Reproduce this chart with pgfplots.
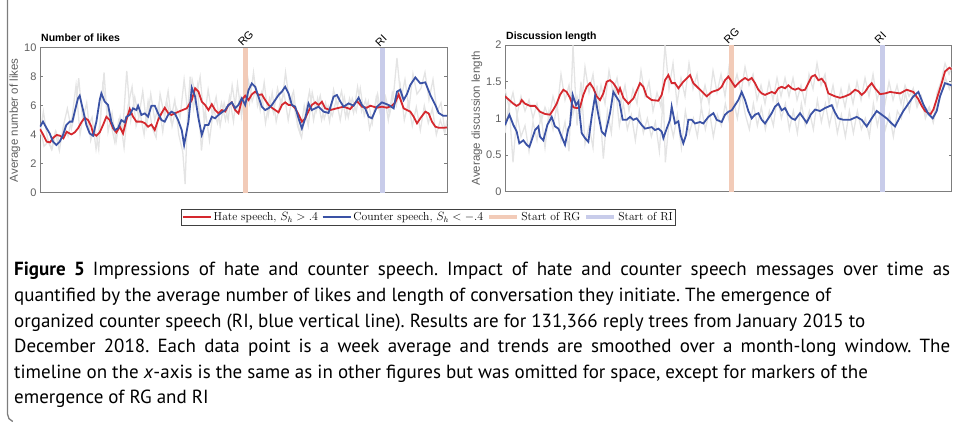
\documentclass[border=0pt]{standalone}
\usepackage{fontspec}
\usepackage{pgfplots}
\pgfplotsset{compat=1.18}
\newfontfamily\arialfont{Liberation Sans}
\newfontfamily\capfont{PT Sans}

\definecolor{hatered}{RGB}{213,40,46}
\definecolor{counterblue}{RGB}{58,82,165}
\definecolor{rgbar}{RGB}{242,203,184}
\definecolor{ribar}{RGB}{200,204,234}
\definecolor{rawgray}{RGB}{228,228,228}
\definecolor{boxgray}{RGB}{125,125,125}
\definecolor{labgray}{RGB}{95,95,95}

\tikzset{
  mark label/.style={rotate=45, anchor=south west, inner sep=0pt,
    xshift=-2pt, yshift=2.5pt, font=\arialfont\fontsize{11}{12}\selectfont},
  panel title/.style={anchor=base west, inner sep=0pt, xshift=1pt, yshift=6pt,
    font=\arialfont\bfseries\fontsize{10.5}{12}\selectfont},
}

\pgfplotsset{
  panel/.style={
    scale only axis,
    clip mode=individual,
    axis line style={boxgray, line width=0.6pt},
    xtick=\empty,
    ytick pos=both,
    yticklabel pos=left,
    tick align=inside,
    major tick length=3pt,
    tick style={boxgray, line width=0.5pt},
    /pgf/number format/assume math mode=true,
    tick label style={font=\arialfont\fontsize{11}{12}\selectfont, text=labgray},
    ylabel style={font=\arialfont\fontsize{11.5}{13}\selectfont, text=labgray, anchor=center},
  },
  raw/.style={rawgray, line width=1.3pt, forget plot},
  hate/.style={hatered, line width=1.8pt, forget plot},
  counter/.style={counterblue, line width=1.8pt, forget plot},
}

\begin{document}
\begin{tikzpicture}[x=1pt,y=1pt]
\path[use as bounding box] (0,0) rectangle (955,426);

% page frame on the left
\draw[boxgray, line width=1.3pt] (7.5,426) -- (7.5,12) arc[start angle=180, end angle=250, radius=8];

% ---------------- Number of likes ----------------
\begin{axis}[panel,
  at={(40pt,233.3pt)}, anchor=south west,
  width=407pt, height=145pt,
  xmin=120, xmax=1340, ymin=0, ymax=10,
  ytick={0,2,4,6,8,10},
  ylabel={Average number of likes},
  ylabel style={at={(axis description cs:-0.0614,0.5)}},
  legend columns=4,
  legend image code/.code={\draw[#1] (0pt,0pt) -- (28pt,0pt);},
  legend style={at={(0.9545,-0.1676)}, anchor=center, draw=black!75,
    line width=0.6pt, inner sep=1pt,
    font=\fontsize{11.6}{14}\selectfont,
    /tikz/every even column/.append style={column sep=2pt}},
]
\addplot[raw] coordinates {
(120,4.6)(132,3.2)(144,3.5)(156,3.0)(168,4.2)(180,3.4)(192,4.6)(204,3.9)(216,5.2)(228,7.4)
(240,4.0)(252,5.6)(264,4.5)(276,5.2)(288,3.0)(300,4.9)(312,8.3)(324,4.2)(336,5.5)(348,3.5)
(360,5.2)(372,3.1)(384,6.0)(396,7.3)(408,4.6)(420,5.5)(432,4.0)(444,6.3)(456,4.5)(468,3.8)
(480,6.8)(492,5.4)(504,7.0)(516,4.6)(528,5.9)(540,5.2)(552,7.8)(564,5.3)(576,7.8)(588,6.5)
(600,8.0)(612,5.0)(624,7.1)(636,5.4)(648,6.6)(660,4.6)(672,6.2)(684,5.0)(696,7.4)(708,5.6)
(720,6.6)(732,5.2)(744,7.8)(756,6.3)(768,7.2)(780,5.7)(792,7.6)(804,5.3)(816,6.9)(828,4.9)
(840,6.2)(852,6.8)(864,5.0)(876,6.6)(888,5.2)(900,4.1)(912,6.0)(924,4.6)(936,6.9)(948,5.6)
(960,6.7)(972,5.1)(984,6.0)(996,5.3)(1008,6.4)(1020,5.0)(1032,6.6)(1044,5.2)(1056,6.5)(1068,5.6)
(1080,7.2)(1092,5.3)(1104,6.3)(1116,4.8)(1128,6.6)(1140,5.4)(1152,6.8)(1164,5.0)(1176,6.9)(1188,6.0)
(1200,7.4)(1212,5.0)(1224,6.2)(1236,4.6)(1248,5.9)(1260,4.3)(1272,6.0)(1284,4.8)(1296,5.8)(1308,4.0)
(1320,5.0)(1332,4.2)(1340,4.6)};
\addplot[raw] coordinates {
(120,4.0)(130,5.6)(142,3.8)(154,3.0)(166,4.2)(178,2.9)(190,4.6)(202,5.8)(214,4.4)(226,5.6)
(236,7.9)(248,5.0)(260,6.2)(272,3.6)(284,4.6)(296,3.0)(308,7.4)(320,6.0)(332,4.8)(344,3.5)
(356,5.0)(368,4.3)(380,8.4)(392,5.0)(404,6.6)(416,5.2)(428,7.0)(440,4.6)(452,6.8)(464,5.0)
(476,6.1)(488,4.2)(500,6.3)(512,5.0)(524,6.4)(536,4.0)(548,2.8)(555,0.6)(562,5.2)(570,8.0)
(580,5.8)(592,7.4)(604,2.9)(616,5.6)(628,3.6)(640,5.8)(652,4.8)(664,6.2)(676,5.0)(688,6.6)
(700,4.9)(712,7.5)(724,5.3)(736,8.0)(748,6.2)(760,8.3)(772,6.0)(784,6.9)(796,4.8)(808,6.5)
(820,5.5)(832,7.2)(844,6.0)(856,8.3)(868,6.2)(880,7.0)(892,4.6)(904,3.8)(916,5.6)(928,7.0)
(940,5.0)(952,6.5)(964,5.0)(976,6.2)(988,4.9)(1000,7.1)(1012,6.0)(1024,7.0)(1036,5.2)(1048,6.5)
(1060,5.5)(1072,7.3)(1084,5.6)(1096,6.4)(1108,4.4)(1120,5.4)(1132,6.8)(1144,5.2)(1156,6.6)(1168,5.4)
(1180,6.8)(1190,9.3)(1202,6.4)(1214,7.8)(1226,5.8)(1238,8.2)(1250,6.8)(1262,7.2)(1274,8.3)(1286,6.4)
(1298,7.8)(1310,5.6)(1322,6.2)(1334,4.2)(1340,5.0)};
\addplot[rgbar, line width=5pt, forget plot] coordinates {(737,0) (737,10)};
\addplot[ribar, line width=5pt, forget plot] coordinates {(1148,0) (1148,10)};
\addplot[hate] coordinates {
(120,4.39)(130,3.98)(140,3.52)(150,3.47)(160,3.8)(170,3.98)(180,3.93)(190,3.75)(200,4.2)(214,4.02)
(224,4.16)(234,4.44)(244,4.85)(254,5.17)(264,5.01)(274,4.55)(279,4.09)(289,3.93)(299,4.16)(309,4.67)
(319,5.24)(329,5.01)(339,4.44)(349,4.16)(359,4.55)(369,4.09)(379,5.01)(389,5.77)(399,5.24)(409,4.9)
(424,4.9)(434,4.8)(444,4.55)(454,4.7)(464,4.32)(474,5.01)(484,5.47)(494,5.86)(504,5.5)(514,5.36)
(524,5.47)(540,5.63)(560,5.82)(575,6.39)(585,7.2)(595,6.97)(605,6.28)(615,6.05)(625,5.7)(635,6.1)
(645,5.7)(655,5.47)(665,5.7)(675,5.6)(685,6.05)(695,6.23)(705,5.7)(715,5.47)(725,6.39)(735,6.69)
(745,6.39)(755,6.78)(765,6.97)(775,6.74)(785,6.78)(795,6.39)(805,6.05)(815,5.86)(825,5.7)(835,5.54)
(845,6.05)(855,6.23)(865,6.05)(875,6.05)(885,5.82)(895,5.4)(905,4.9)(915,5.13)(925,5.63)(935,6.05)
(945,6.23)(955,6.05)(965,6.28)(975,5.82)(990,5.7)(1010,5.82)(1030,5.93)(1050,5.77)(1070,6.32)(1085,5.93)
(1100,5.86)(1110,6.0)(1130,5.86)(1145,5.93)(1160,5.86)(1175,6.0)(1185,6.23)(1195,6.78)(1210,5.82)(1220,5.7)
(1230,5.59)(1240,5.24)(1250,4.78)(1260,5.13)(1275,5.59)(1285,5.47)(1295,4.9)(1305,4.55)(1315,4.48)(1330,4.48)
(1340,4.5)};
\addplot[counter] coordinates {
(120,4.55)(129,4.9)(139,4.48)(149,4.09)(159,3.52)(169,3.29)(179,3.52)(189,3.98)(199,4.67)(209,4.9)
(217,4.9)(224,5.59)(234,6.51)(239,6.69)(249,5.7)(259,4.67)(269,4.09)(279,3.93)(289,4.9)(299,6.39)
(304,6.85)(314,6.28)(324,6.05)(334,4.9)(344,4.32)(354,4.44)(364,5.01)(374,4.85)(379,5.24)(389,5.36)
(399,5.82)(409,5.7)(414,6.0)(424,5.36)(434,5.47)(444,5.24)(454,6.0)(464,6.0)(474,5.47)(484,5.01)
(494,4.9)(504,5.36)(514,5.59)(524,5.47)(534,5.01)(545,4.3)(552,3.29)(565,4.9)(575,7.24)(585,6.62)
(595,5.13)(605,3.98)(615,4.67)(625,4.67)(635,5.24)(645,5.13)(655,5.36)(665,5.54)(675,5.7)(685,6.05)
(695,6.23)(705,5.82)(715,6.05)(725,6.51)(735,6.05)(745,7.08)(755,7.54)(765,7.31)(775,6.62)(785,5.93)
(795,5.7)(805,5.82)(815,6.05)(825,6.39)(835,6.74)(845,6.97)(855,7.31)(865,6.85)(875,6.05)(885,5.93)
(895,5.13)(905,4.44)(915,5.13)(925,6.16)(935,5.7)(945,5.82)(955,5.93)(970,5.59)(985,5.5)(1000,6.62)
(1010,6.74)(1020,6.3)(1030,5.93)(1045,6.16)(1060,6.0)(1075,6.55)(1085,6.05)(1095,5.8)(1105,5.24)(1115,5.13)
(1130,5.93)(1145,6.23)(1165,6.05)(1180,5.82)(1190,6.97)(1200,7.1)(1210,6.39)(1220,6.8)(1230,7.43)(1245,7.95)
(1260,7.54)(1275,7.61)(1290,6.74)(1305,6.05)(1315,5.5)(1328,5.31)(1340,5.3)};
\node[panel title] at (rel axis cs:0,1) {Number of likes};
\node[mark label] at (axis cs:737,10) {RG};
\node[mark label] at (axis cs:1148,10) {RI};
\addlegendimage{hatered, line width=1.5pt}
\addlegendentry{Hate speech, $S_h>.4$}
\addlegendimage{counterblue, line width=1.5pt}
\addlegendentry{Counter speech, $S_h<-.4$}
\addlegendimage{rgbar, line width=4pt}
\addlegendentry{Start of RG}
\addlegendimage{ribar, line width=4pt}
\addlegendentry{Start of RI}
\end{axis}

% ---------------- Discussion length ----------------
\begin{axis}[panel,
  at={(505pt,234.3pt)}, anchor=south west,
  width=446.7pt, height=146.7pt,
  xmin=105, xmax=1445, ymin=0, ymax=2,
  ytick={0,0.5,1,1.5,2},
  ylabel={Average discussion length},
  ylabel style={at={(axis description cs:-0.0627,0.5)}},
]
\addplot[raw] coordinates {
(105,1.4)(117,1.15)(129,1.35)(141,1.05)(153,1.3)(165,1.1)(177,1.25)(189,1.0)(201,1.2)(213,0.95)
(225,1.15)(237,1.0)(249,1.3)(261,1.1)(273,1.6)(285,1.25)(297,1.45)(309,1.05)(321,1.3)(333,1.1)
(345,1.7)(357,1.35)(369,1.6)(381,1.15)(393,1.45)(405,1.2)(417,1.65)(429,1.35)(441,1.55)(453,1.2)
(465,1.45)(477,1.1)(489,1.4)(501,1.2)(513,1.65)(525,1.3)(537,1.5)(549,1.1)(561,1.35)(573,1.15)
(585,2.0)(597,1.4)(609,1.75)(621,1.2)(633,1.55)(645,1.3)(657,1.75)(669,1.4)(681,1.6)(693,1.2)
(705,1.45)(717,1.2)(729,1.65)(741,1.35)(753,1.6)(765,1.3)(777,1.7)(789,1.4)(801,1.6)(813,1.35)
(825,1.7)(837,1.45)(849,1.6)(861,1.25)(873,1.45)(885,1.2)(897,1.5)(909,1.25)(921,1.55)(933,1.3)
(945,1.55)(957,1.3)(969,1.55)(981,1.25)(993,1.45)(1005,1.2)(1017,1.6)(1029,1.4)(1041,1.75)(1053,1.45)
(1065,1.6)(1077,1.2)(1089,1.45)(1101,1.15)(1113,1.4)(1125,1.15)(1137,1.45)(1149,1.2)(1161,1.5)(1173,1.25)
(1185,1.55)(1197,1.3)(1209,1.6)(1221,1.25)(1233,1.45)(1245,1.2)(1257,1.5)(1269,1.25)(1281,1.45)(1293,1.2)
(1305,1.45)(1317,1.3)(1329,1.4)(1341,1.15)(1353,1.3)(1365,1.05)(1377,1.15)(1389,0.95)(1401,1.35)(1413,1.5)
(1425,1.75)(1437,1.6)(1445,1.7)};
\addplot[raw] coordinates {
(105,0.8)(117,1.2)(129,0.4)(141,1.05)(153,0.75)(165,0.9)(177,0.55)(189,0.95)(201,0.7)(213,1.05)
(225,0.6)(237,1.1)(249,0.85)(261,1.2)(273,0.7)(285,0.95)(297,0.55)(309,2.0)(321,0.9)(333,1.5)
(345,0.65)(357,0.9)(369,0.6)(381,1.45)(393,0.9)(400,0.45)(412,1.1)(424,0.8)(436,1.45)(448,0.9)
(460,1.2)(472,0.85)(484,1.05)(496,0.7)(508,1.1)(520,0.8)(532,1.0)(544,0.75)(556,0.95)(568,0.55)
(580,1.3)(586,0.4)(598,1.0)(610,0.75)(622,1.05)(634,0.6)(646,1.1)(658,0.8)(670,1.0)(682,0.75)
(694,1.15)(706,0.85)(718,1.1)(730,0.75)(742,1.05)(754,0.9)(766,1.2)(778,0.95)(790,1.25)(802,1.0)
(814,1.35)(826,1.05)(838,0.85)(850,1.2)(862,0.9)(874,1.15)(886,0.85)(898,1.1)(910,0.9)(922,1.3)
(934,1.0)(946,1.2)(958,0.85)(970,1.1)(982,0.8)(994,1.2)(1006,0.9)(1018,1.1)(1030,0.85)(1042,1.25)
(1054,0.95)(1066,1.2)(1078,0.9)(1090,1.15)(1102,0.8)(1114,1.05)(1126,0.75)(1138,1.1)(1150,0.8)(1162,1.1)
(1174,0.85)(1186,1.0)(1198,0.75)(1210,1.2)(1222,0.9)(1234,1.15)(1246,0.85)(1258,1.05)(1270,0.75)(1282,1.1)
(1294,1.0)(1306,1.35)(1318,1.1)(1330,1.4)(1342,1.2)(1354,1.3)(1366,1.0)(1378,1.15)(1390,0.95)(1402,1.2)
(1414,1.35)(1426,1.55)(1438,1.4)(1445,1.5)};
\addplot[rgbar, line width=5pt, forget plot] coordinates {(785,0) (785,2)};
\addplot[ribar, line width=5pt, forget plot] coordinates {(1237,0) (1237,2)};
\addplot[hate] coordinates {
(105,1.30)(115,1.26)(130,1.2)(140,1.17)(150,1.2)(155,1.25)(165,1.2)(180,1.17)(195,1.17)(210,1.09)
(225,1.06)(240,1.05)(250,1.12)(260,1.2)(270,1.32)(280,1.39)(290,1.36)(300,1.28)(310,1.15)(320,1.14)
(330,1.15)(340,1.32)(350,1.43)(360,1.48)(370,1.41)(380,1.30)(390,1.25)(400,1.34)(410,1.5)(420,1.52)
(430,1.48)(440,1.41)(445,1.35)(450,1.41)(460,1.28)(475,1.2)(490,1.27)(510,1.48)(520,1.43)(530,1.3)
(545,1.25)(565,1.24)(575,1.32)(585,1.52)(595,1.59)(605,1.48)(615,1.48)(625,1.41)(640,1.5)(660,1.59)
(670,1.48)(690,1.39)(710,1.30)(725,1.36)(745,1.39)(755,1.43)(765,1.52)(775,1.57)(785,1.5)(795,1.43)
(805,1.48)(815,1.52)(825,1.55)(835,1.52)(845,1.55)(855,1.48)(865,1.39)(875,1.34)(885,1.32)(895,1.34)
(905,1.36)(915,1.34)(925,1.41)(935,1.43)(945,1.41)(955,1.45)(965,1.41)(975,1.39)(985,1.41)(995,1.38)
(1005,1.39)(1015,1.48)(1025,1.57)(1035,1.59)(1045,1.52)(1055,1.54)(1065,1.48)(1075,1.34)(1085,1.32)(1095,1.3)
(1110,1.28)(1125,1.30)(1140,1.33)(1155,1.39)(1165,1.37)(1175,1.32)(1185,1.36)(1195,1.43)(1205,1.48)(1215,1.41)
(1230,1.33)(1245,1.34)(1260,1.36)(1275,1.35)(1290,1.34)(1310,1.39)(1330,1.36)(1345,1.26)(1355,1.17)(1365,1.10)
(1375,1.07)(1382,1.06)(1390,1.12)(1400,1.26)(1415,1.48)(1425,1.64)(1438,1.69)(1445,1.67)};
\addplot[counter] coordinates {
(105,0.91)(118,1.05)(130,0.91)(140,0.82)(148,0.66)(160,0.7)(170,0.64)(178,0.61)(185,0.7)(195,0.84)
(205,0.89)(210,0.75)(220,0.7)(232,0.91)(245,1.02)(255,0.89)(265,0.86)(275,0.75)(285,0.64)(295,0.86)
(300,0.91)(308,1.32)(318,1.18)(325,1.23)(335,0.8)(345,0.73)(355,0.68)(365,1.02)(375,1.3)(385,1.05)
(395,0.82)(405,0.77)(412,0.91)(420,1.07)(430,1.36)(438,1.3)(448,1.23)(458,0.98)(470,0.98)(480,1.02)
(490,0.98)(500,1.0)(515,0.91)(525,0.86)(545,0.88)(555,0.84)(565,0.86)(575,0.82)(580,0.73)(590,0.86)
(600,0.98)(605,1.16)(615,0.93)(625,0.96)(632,0.77)(640,0.66)(648,0.77)(655,0.98)(665,0.98)(675,0.93)
(690,0.95)(700,0.93)(715,1.02)(730,1.07)(740,0.98)(755,0.95)(765,1.05)(775,1.09)(785,1.11)(795,1.18)
(805,1.25)(815,1.36)(825,1.25)(835,1.1)(845,1.0)(855,1.05)(865,1.07)(875,0.98)(885,0.93)(895,1.0)
(905,1.07)(915,1.16)(925,1.2)(935,1.11)(945,1.14)(955,1.05)(965,1.0)(975,0.98)(990,1.07)(1010,0.94)
(1022,1.05)(1035,1.12)(1050,1.1)(1065,1.14)(1085,1.18)(1095,1.08)(1105,1.0)(1120,0.98)(1140,0.98)(1160,1.02)
(1175,0.98)(1190,0.89)(1205,1.0)(1220,1.1)(1235,1.05)(1250,1.0)(1265,0.93)(1275,0.89)(1290,1.02)(1300,1.1)
(1315,1.2)(1330,1.3)(1345,1.36)(1360,1.19)(1375,1.06)(1388,1.0)(1400,1.1)(1410,1.3)(1425,1.48)(1438,1.46)
(1445,1.45)};
\node[panel title, yshift=-1pt] at (rel axis cs:0,1) {Discussion length};
\node[mark label] at (axis cs:785,2) {RG};
\node[mark label] at (axis cs:1237,2) {RI};
\end{axis}

% ---------------- caption ----------------
\begin{scope}[every node/.style={anchor=base west, inner sep=0pt,
    font=\capfont\fontsize{19}{22}\selectfont\frenchspacing}]
\node at (14,150) {\makebox[936pt][s]{\textbf{Figure 5}\hspace{8pt}Impressions of hate and counter speech. Impact of hate and counter speech messages over time as}};
\node at (14,124.5) {quantified by the average number of likes and length of conversation they initiate. The emergence of};
\node at (14,99) {organized counter speech (RI, blue vertical line). Results are for 131,366 reply trees from January 2015 to};
\node at (14,73.5) {\makebox[936pt][s]{December 2018. Each data point is a week average and trends are smoothed over a month-long window. The}};
\node at (14,48) {timeline on the \textit{x}-axis is the same as in other figures but was omitted for space, except for markers of the};
\node at (14,22.5) {emergence of RG and RI};
\end{scope}
\end{tikzpicture}
\end{document}
